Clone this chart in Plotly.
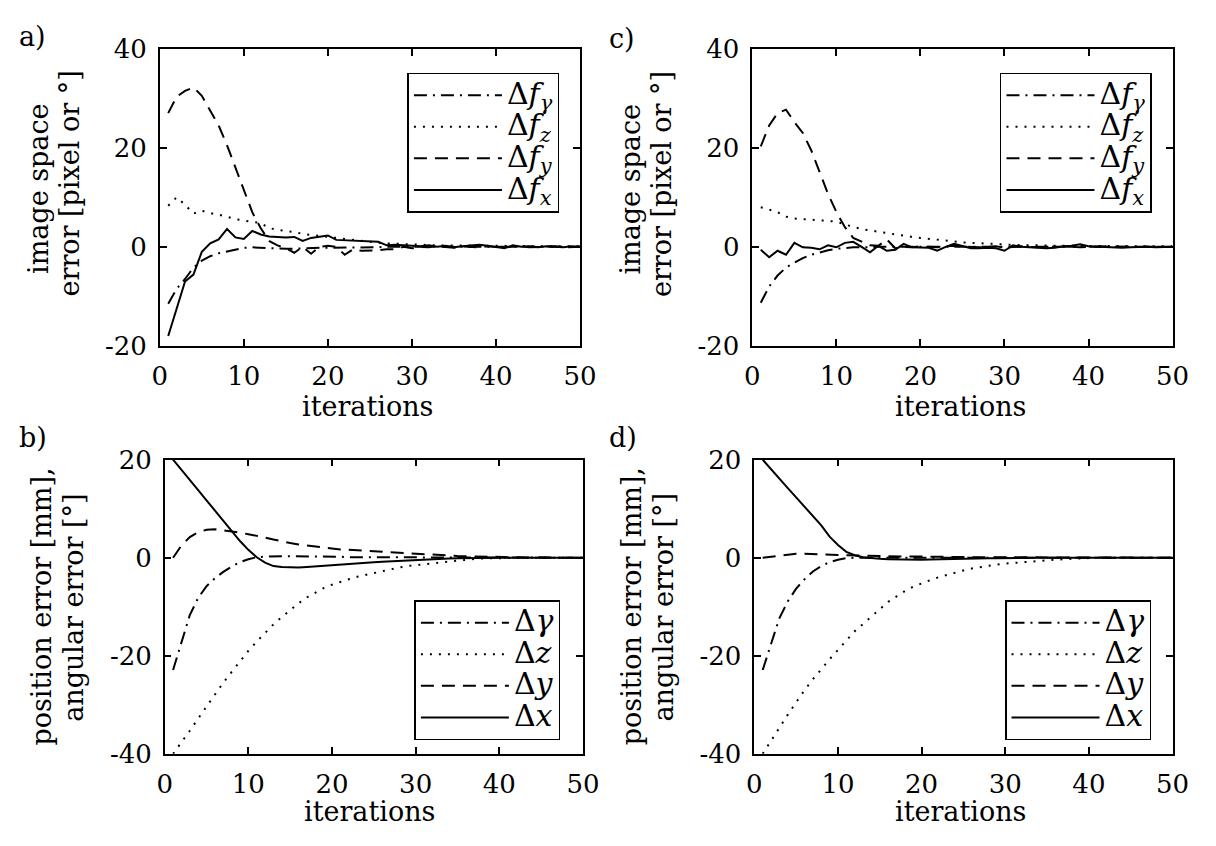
import plotly.graph_objects as go

iterations = list(range(1, 51))

# ---- a) image space error, run 1 ----
a_fgamma = [-11.5, -8.5, -6.5, -4.2, -2.8, -1.9, -1.3, -0.9, -0.5, -0.2,
            -0.1, -0.2, -0.3, -0.4, -0.4, -0.4, -0.3, -0.3, -0.2, -0.2,
            -0.2, -0.1, -0.1, -0.1, -0.1, -0.1, 0.0, 0.0, 0.0, 0.0,
            0.0, 0.0, 0.0, 0.0, 0.0, 0.0, 0.0, 0.0, 0.0, 0.0,
            0.0, 0.0, 0.0, 0.0, 0.0, 0.0, 0.0, 0.0, 0.0, 0.0]
a_fz = [8.3, 10.0, 8.5, 6.7, 7.3, 6.8, 6.5, 6.0, 5.6, 5.3,
        5.0, 4.8, 3.8, 3.4, 3.2, 3.0, 2.6, 2.4, 2.1, 2.0,
        1.7, 1.5, 1.3, 1.1, 1.0, 0.8, 0.7, 0.6, 0.5, 0.4,
        0.4, 0.35, 0.3, 0.3, 0.3, 0.25, 0.25, 0.2, 0.2, 0.2,
        0.2, 0.15, 0.15, 0.15, 0.1, 0.1, 0.1, 0.1, 0.1, 0.1]
a_fy = [27.0, 30.3, 31.5, 32.2, 30.5, 27.5, 24.5, 20.5, 16.0, 11.8,
        7.0, 3.8, 1.2, 0.3, -0.3, -1.2, 0.0, -1.4, 0.0, 0.2,
        0.0, -1.6, -0.5, -0.8, -0.8, -0.7, -0.5, -0.5, 0.0, -0.3,
        0.0, -0.1, 0.1, 0.0, -0.2, 0.1, 0.0, -0.1, 0.1, 0.0,
        -0.1, 0.0, 0.1, -0.1, 0.0, 0.0, 0.1, -0.1, 0.0, 0.0]
a_fx = [-18.0, -12.3, -7.0, -5.6, -1.0, 0.7, 1.5, 3.6, 1.9, 1.6,
        3.2, 2.5, 2.1, 2.0, 1.9, 2.0, 1.2, 1.8, 2.0, 2.3,
        1.4, 1.3, 1.3, 1.2, 1.1, 1.0, 0.3, 0.4, 0.3, 0.2,
        0.1, 0.3, 0.0, 0.2, -0.1, 0.1, 0.3, 0.4, 0.2, 0.0,
        -0.3, 0.3, 0.0, 0.1, -0.1, 0.1, 0.0, -0.1, 0.1, 0.0]

# ---- c) image space error, run 2 ----
c_fgamma = [-11.3, -8.0, -5.8, -4.2, -3.2, -2.3, -1.6, -1.1, -0.7, -0.4,
            -0.2, -0.1, -0.1, 0.0, 0.0, 0.0, 0.0, 0.0, 0.0, 0.0,
            0.0, 0.0, 0.0, 0.0, 0.0, 0.0, 0.0, 0.0, 0.0, 0.0,
            0.0, 0.0, 0.0, 0.0, 0.0, 0.0, 0.0, 0.0, 0.0, 0.0,
            0.0, 0.0, 0.0, 0.0, 0.0, 0.0, 0.0, 0.0, 0.0, 0.0]
c_fz = [8.0, 7.5, 7.0, 6.1, 5.7, 5.6, 5.5, 5.4, 5.3, 5.1,
        4.5, 4.0, 3.6, 3.3, 3.1, 2.8, 2.5, 2.2, 2.0, 1.8,
        1.6, 1.4, 1.2, 1.05, 0.9, 0.8, 0.7, 0.6, 0.5, 0.45,
        0.4, 0.35, 0.3, 0.3, 0.25, 0.25, 0.2, 0.2, 0.2, 0.2,
        0.15, 0.15, 0.15, 0.1, 0.1, 0.1, 0.1, 0.1, 0.1, 0.1]
c_fy = [20.3, 24.5, 27.0, 27.7, 25.2, 23.0, 19.5, 15.0, 10.7, 7.0,
        4.0, 1.8, 1.0, 0.3, 0.2, 1.5, -0.3, 0.0, -0.1, 0.1,
        0.0, -0.1, 0.1, 0.2, 0.1, 0.0, -0.1, 0.0, 0.1, -0.2,
        0.0, 0.1, 0.0, -0.1, 0.0, 0.0, 0.1, 0.0, -0.1, 0.0,
        0.0, 0.1, 0.0, 0.0, -0.1, 0.0, 0.0, 0.0, 0.0, 0.0]
c_fx = [-0.6, -2.1, -0.8, -1.6, 0.8, -0.1, -0.2, -0.5, 0.3, -0.1,
        0.8, 1.0, 0.0, -1.1, 0.2, -0.8, -0.6, 0.6, -0.1, -0.1,
        -0.2, -0.8, 0.0, 0.6, 0.2, -0.3, -0.3, -0.2, -0.3, -0.8,
        0.3, 0.0, -0.1, -0.2, -0.3, -0.2, 0.1, 0.2, 0.5, 0.1,
        0.0, -0.1, -0.1, -0.2, -0.1, 0.0, 0.0, -0.1, 0.0, 0.0]

# ---- b) position / angular error, run 1 ----
b_gamma = [-22.9, -17.5, -11.7, -8.2, -5.8, -4.2, -2.9, -1.8, -0.9, -0.3,
           0.1, 0.2, 0.3, 0.3, 0.3, 0.3, 0.3, 0.3, 0.2, 0.2,
           0.2, 0.1, 0.1, 0.1, 0.1, 0.1, 0.0, 0.0, 0.0, 0.0,
           0.0, 0.0, 0.0, 0.0, 0.0, 0.0, 0.0, 0.0, 0.0, 0.0,
           0.0, 0.0, 0.0, 0.0, 0.0, 0.0, 0.0, 0.0, 0.0, 0.0]
b_z = [-40.0, -37.7, -35.3, -32.8, -30.3, -27.8, -25.5, -23.3, -21.1, -19.0,
       -17.1, -15.3, -13.6, -12.1, -10.7, -9.3, -8.1, -7.1, -6.2, -5.5,
       -4.9, -4.4, -3.9, -3.5, -3.1, -2.7, -2.3, -2.0, -1.7, -1.5,
       -1.3, -1.1, -0.9, -0.7, -0.5, -0.35, -0.25, -0.15, -0.1, -0.05,
       0.0, 0.0, 0.0, 0.0, 0.0, 0.0, 0.0, 0.0, 0.0, 0.0]
b_y = [0.0, 2.5, 4.2, 5.2, 5.7, 5.8, 5.6, 5.4, 5.1, 4.8,
       4.5, 4.1, 3.7, 3.3, 3.0, 2.7, 2.5, 2.3, 2.0, 1.8,
       1.7, 1.6, 1.5, 1.3, 1.2, 1.1, 1.0, 0.9, 0.8, 0.7,
       0.6, 0.5, 0.45, 0.4, 0.35, 0.3, 0.25, 0.2, 0.15, 0.1,
       0.1, 0.1, 0.05, 0.05, 0.0, 0.0, 0.0, 0.0, 0.0, 0.0]
b_x = [20.0, 18.0, 15.9, 13.8, 11.7, 9.6, 7.5, 5.4, 3.4, 1.6,
       0.1, -1.0, -1.7, -1.9, -2.0, -2.0, -1.9, -1.8, -1.7, -1.6,
       -1.5, -1.35, -1.25, -1.1, -0.95, -0.8, -0.7, -0.6, -0.5, -0.4,
       -0.35, -0.3, -0.2, -0.15, -0.1, -0.05, 0.0, 0.0, 0.0, 0.0,
       0.0, 0.0, 0.0, 0.0, 0.0, 0.0, 0.0, 0.0, 0.0, 0.0]

# ---- d) position / angular error, run 2 ----
d_gamma = [-22.9, -17.5, -12.3, -8.9, -6.3, -4.4, -2.8, -1.7, -0.9, -0.4,
           -0.1, 0.0, 0.0, 0.0, 0.0, 0.0, 0.0, 0.0, 0.0, 0.0,
           0.0, 0.0, 0.0, 0.0, 0.0, 0.0, 0.0, 0.0, 0.0, 0.0,
           0.0, 0.0, 0.0, 0.0, 0.0, 0.0, 0.0, 0.0, 0.0, 0.0,
           0.0, 0.0, 0.0, 0.0, 0.0, 0.0, 0.0, 0.0, 0.0, 0.0]
d_z = [-40.0, -37.3, -34.7, -32.0, -29.5, -27.0, -24.8, -22.7, -20.7, -18.8,
       -16.8, -15.0, -13.5, -12.0, -10.3, -9.0, -7.9, -6.8, -5.9, -5.2,
       -4.6, -4.0, -3.5, -3.0, -2.6, -2.2, -1.9, -1.6, -1.4, -1.2,
       -1.05, -0.9, -0.8, -0.65, -0.5, -0.4, -0.3, -0.2, -0.1, -0.05,
       0.0, 0.0, 0.0, 0.0, 0.0, 0.0, 0.0, 0.0, 0.0, 0.0]
d_y = [0.0, 0.2, 0.5, 0.7, 0.8, 0.8, 0.7, 0.65, 0.6, 0.55,
       0.5, 0.45, 0.4, 0.35, 0.3, 0.3, 0.3, 0.25, 0.25, 0.3,
       0.2, 0.2, 0.15, 0.15, 0.1, 0.1, 0.1, 0.1, 0.05, 0.05,
       0.0, 0.0, 0.0, 0.0, 0.0, 0.0, 0.0, 0.0, 0.0, 0.0,
       0.0, 0.0, 0.0, 0.0, 0.0, 0.0, 0.0, 0.0, 0.0, 0.0]
d_x = [20.0, 18.0, 16.1, 14.2, 12.3, 10.4, 8.6, 6.6, 4.3, 2.6,
       1.2, 0.5, 0.1, -0.1, -0.2, -0.3, -0.35, -0.4, -0.4, -0.4,
       -0.35, -0.3, -0.25, -0.2, -0.2, -0.15, -0.15, -0.1, -0.1, -0.05,
       0.0, 0.0, 0.0, 0.0, 0.0, 0.0, 0.0, 0.0, 0.0, 0.0,
       0.0, 0.0, 0.0, 0.0, 0.0, 0.0, 0.0, 0.0, 0.0, 0.0]

# tick labels
x_tickvals = [0, 10, 20, 30, 40, 50]
x_ticktext = ["0", "10", "20", "30", "40", "50"]
ytop_tickvals = [-20, 0, 20, 40]
ytop_ticktext = ["-20", "0", "20", "40"]
ybot_tickvals = [-40, -20, 0, 20]
ybot_ticktext = ["-40", "-20", "0", "20"]

BIG = '<span style="font-size:30px">'
top_names = [BIG + "Δ<i>f</i><sub><i>γ</i></sub></span>", BIG + "Δ<i>f</i><sub><i>z</i></sub></span>",
             BIG + "Δ<i>f</i><sub><i>y</i></sub></span>", BIG + "Δ<i>f</i><sub><i>x</i></sub></span>"]
bot_names = [BIG + "Δ<i>γ</i></span>", BIG + "Δ<i>z</i></span>",
             BIG + "Δ<i>y</i></span>", BIG + "Δ<i>x</i></span>"]

DASHES = ["13px,6px,2px,6px", "2px,7px", "13px,8px", "solid"]
FONT = "DejaVu Serif"
W, H = 1216, 846

fig = go.Figure()

panels = [
    ("x", "y", "legend", [a_fgamma, a_fz, a_fy, a_fx], top_names),
    ("x2", "y2", "legend2", [c_fgamma, c_fz, c_fy, c_fx], top_names),
    ("x3", "y3", "legend3", [b_gamma, b_z, b_y, b_x], bot_names),
    ("x4", "y4", "legend4", [d_gamma, d_z, d_y, d_x], bot_names),
]
for xa, ya, lg, series, names in panels:
    for s, name, dash in zip(series, names, DASHES):
        fig.add_trace(go.Scatter(
            x=iterations, y=s, mode="lines", name=name,
            line=dict(color="black", width=2, dash=dash),
            xaxis=xa, yaxis=ya, legend=lg, showlegend=True,
            hoverinfo="skip"))

def px_x(v):
    return v / W

def px_y(v):
    return 1 - v / H

axis_common = dict(
    showline=True, linecolor="black", linewidth=1.5, mirror="ticks",
    ticks="inside", ticklen=7, tickwidth=1.5, tickcolor="black",
    showgrid=False, zeroline=False,
    tickfont=dict(family=FONT, size=26, color="black"),
)

domains = {
    "a": ([155, 584], [35, 343]),
    "c": ([760, 1189], [35, 343]),
    "b": ([160, 587], [461, 766]),
    "d": ([762, 1189], [461, 766]),
}

layout = dict(
    width=W, height=H, margin=dict(l=0, r=0, t=0, b=0),
    paper_bgcolor="white", plot_bgcolor="white",
    font=dict(family=FONT, size=26, color="black"),
)

keys = [("a", "xaxis", "yaxis", ytop_tickvals, ytop_ticktext, [-20, 40]),
        ("c", "xaxis2", "yaxis2", ytop_tickvals, ytop_ticktext, [-20, 40]),
        ("b", "xaxis3", "yaxis3", ybot_tickvals, ybot_ticktext, [-40, 20]),
        ("d", "xaxis4", "yaxis4", ybot_tickvals, ybot_ticktext, [-40, 20])]
for k, xk, yk, yv, yt, yr in keys:
    (x0, x1), (y0, y1) = domains[k]
    layout[xk] = dict(axis_common, domain=[px_x(x0), px_x(x1)], range=[0, 50],
                      tickvals=x_tickvals, ticktext=x_ticktext,
                      ticklabelstandoff=6,
                      anchor=yk.replace("axis", ""))
    layout[yk] = dict(axis_common, domain=[px_y(y1), px_y(y0)], range=yr,
                      tickvals=yv, ticktext=yt, ticklabelstandoff=6,
                      anchor=xk.replace("axis", ""))

leg_common = dict(
    bgcolor="white", bordercolor="black", borderwidth=1.5,
    font=dict(family=FONT, size=22, color="black"),
    itemwidth=88, traceorder="normal", xref="paper", yref="paper",
    itemclick=False, itemdoubleclick=False,
)
layout["legend"] = dict(leg_common, x=px_x(563), y=px_y(60), xanchor="right", yanchor="top")
layout["legend2"] = dict(leg_common, x=px_x(1168), y=px_y(60), xanchor="right", yanchor="top")
layout["legend3"] = dict(leg_common, x=px_x(564), y=px_y(752), xanchor="right", yanchor="bottom")
layout["legend4"] = dict(leg_common, x=px_x(1167), y=px_y(752), xanchor="right", yanchor="bottom")

fig.update_layout(**layout)

def ann(text, x, y, angle=0, xanchor="center", yanchor="middle", size=27):
    fig.add_annotation(text=text, x=px_x(x), y=px_y(y), xref="paper", yref="paper",
                       showarrow=False, textangle=angle, xanchor=xanchor, yanchor=yanchor,
                       font=dict(family=FONT, size=size, color="black"))

# panel labels
ann("a)", 9, 22, xanchor="left")
ann("c)", 612, 24, xanchor="left")
ann("b)", 9, 438, xanchor="left")
ann("d)", 612, 438, xanchor="left")

# x axis titles
ann("iterations", 367, 406)
ann("iterations", 972, 406)
ann("iterations", 369, 826)
ann("iterations", 972, 826)

# y axis titles
for dx in (0, 605):
    ann("image space", 31 + dx, 180, angle=-90)
    ann("error [pixel or °]", 63 + dx, 175, angle=-90)
for dx in (0, 602):
    ann("position error [mm],", 34 + dx, 613, angle=-90)
    ann("angular error [°]", 67 + dx, 614, angle=-90)

fig.write_html("out.html")
